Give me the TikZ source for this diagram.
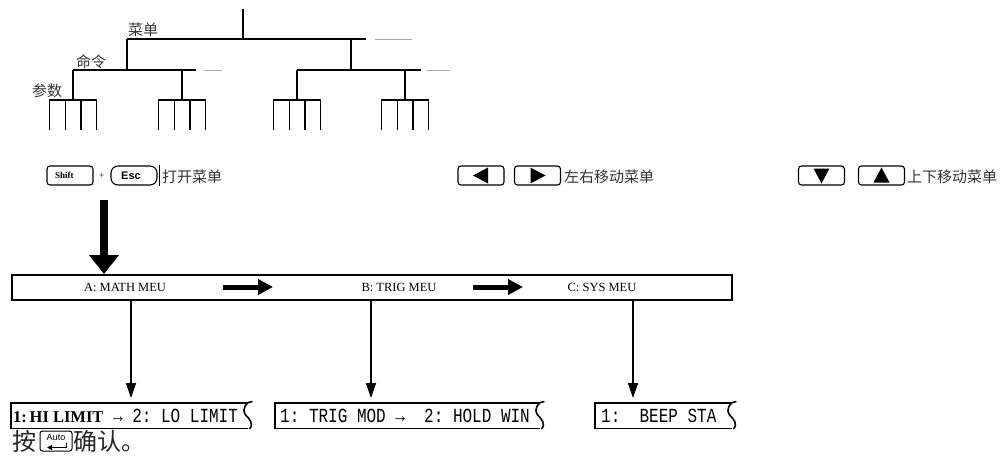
\documentclass[tikz,border=0pt]{standalone}
\usepackage{fontspec}
\setmainfont{Liberation Serif}
\newfontfamily\cjk{Noto Sans CJK SC}
\newfontfamily\narrowmono[FakeStretch=0.8]{Liberation Mono}
\newfontfamily\keysans{Liberation Sans}
\usetikzlibrary{arrows.meta,calc}
\tikzset{
  treeline/.style={line width=1.4pt},
  greydash/.style={line width=1pt,color=black!35},
  cjklabel/.style={font=\cjk\fontsize{15}{15}\selectfont,inner sep=0pt,text=black!80},
  keybox/.style={draw,rounded corners=3pt,line width=1.1pt,inner sep=0pt,minimum height=19pt,minimum width=46pt},
  bigarrow/.style={line width=8pt,-{Triangle[width=29pt,length=19pt]}},
  bararrow/.style={line width=5pt,-{Triangle[width=15pt,length=15pt]}},
  downconn/.style={line width=1.4pt,-{Triangle[width=10pt,length=15pt]},shorten >=5pt},
  bartext/.style={font=\fontsize{12.5}{12.5}\selectfont,inner sep=0pt},
  boxline/.style={line width=1.6pt},
  boxtext/.style={font=\narrowmono\fontsize{20}{20}\selectfont,inner sep=0pt,anchor=west},
  tornbox/.style={minimum height=25pt,inner sep=0pt,anchor=north west}
}
\begin{document}
\begin{tikzpicture}[x=1pt,y=-1pt]
\useasboundingbox (0,0) rectangle (1005,472);

% ---------- tree ----------
\coordinate (root) at (243,9);
\coordinate (rootj) at (243,39);
\coordinate (l1a) at (127,39);
\coordinate (l1b) at (366,39);
\coordinate (l1c) at (351,39);
\draw[treeline] (root) -- (rootj);
\draw[treeline] (l1a) -- (l1b);
\draw[greydash] (375,39) -- (412,39);
\draw[treeline] (l1a) -- (127,70);
\draw[treeline] (l1c) -- (351,70);
\draw[treeline] (73,70) -- (196,70);
\draw[treeline] (297,70) -- (421,70);
\draw[greydash] (204,70) -- (222,70);
\draw[greydash] (427,70) -- (450,70);
\foreach \s in {73,182,297,405} {
  \draw[treeline] (\s,70) -- (\s,100);
  \draw[treeline] (\s-24,100) -- (\s+24,100);
  \foreach \d in {-23.5,-7.8,7.8,23.5}
    \draw[treeline] (\s+\d,100) -- (\s+\d,130);
}
\node[cjklabel] (lmenu) at (143,30) {菜单};
\node[cjklabel] (lcmd) at (91,62) {命令};
\node[cjklabel] (lpar) at (47,91) {参数};

% ---------- keys row ----------
\node[keybox,text width=38pt,align=left,font=\bfseries\fontsize{9}{9}\selectfont] (shift) at (70,175.5) {\hspace*{4pt}Shift};
\node[inner sep=0pt,font=\fontsize{9}{9}\selectfont] (plus) at (102,176) {+};
\node[keybox,rounded corners=7pt,font=\keysans\bfseries\fontsize{11}{11}\selectfont] (esc) at (134,175.5) {\hspace*{-6pt}Esc};
\draw[line width=0.8pt] ($(esc.north east)+(2,0)$) -- ($(esc.south east)+(2,0)$);
\node[cjklabel,anchor=west] (open) at (162,176.5) {打开菜单};

\node[keybox] (kleft) at (481,175.5) {};
\node[keybox] (kright) at (537.5,175.5) {};
\fill ($(kleft.center)+(-8,0)$) -- ++(15,-8) -- ++(0,16) -- cycle;
\fill ($(kright.center)+(8,0)$) -- ++(-15,-8) -- ++(0,16) -- cycle;
\node[cjklabel,anchor=west] (lr) at (564,176.5) {左右移动菜单};

\node[keybox] (kdown) at (821.5,175.5) {};
\node[keybox] (kup) at (881.5,175.5) {};
\fill ($(kdown.center)+(0,8)$) -- ++(-8,-15) -- ++(16,0) -- cycle;
\fill ($(kup.center)+(0,-8)$) -- ++(-8,15) -- ++(16,0) -- cycle;
\node[cjklabel,anchor=west] (ud) at (907,176.5) {上下移动菜单};

% ---------- menu bar ----------
\node[draw,line width=1.5pt,minimum width=720pt,minimum height=25pt,inner sep=0pt,anchor=north west] (bar) at (11,274) {};
\node[bartext] (ma) at (125,287) {A: MATH MEU};
\node[bartext] (mb) at (399,287) {B: TRIG MEU};
\node[bartext] (mc) at (602,287) {C: SYS MEU};
\coordinate (bigstart) at (104,200);
\draw[bigarrow] (bigstart) -- (bigstart |- bar.north);
\coordinate (ab1) at (223,287);
\coordinate (ab2) at (273,287);
\coordinate (bc1) at (473,287);
\coordinate (bc2) at (523,287);
\draw[bararrow] (ab1) -- (ab2);
\draw[bararrow] (bc1) -- (bc2);

% ---------- bottom boxes ----------
\node[tornbox,minimum width=237pt] (b1) at (11,403) {};
\node[tornbox,minimum width=265pt] (b2) at (275,403) {};
\node[tornbox,minimum width=137pt] (b3) at (595,403) {};
\foreach \n in {b1,b2,b3} {
  \draw[boxline] (\n.north east) -- (\n.north west) -- (\n.south west) -- (\n.south east);
  \draw[boxline] ($(\n.north east)+(4,-1.5)$) .. controls ($(\n.north east)+(-2,-2)$) and ($(\n.north east)+(-7,6)$) .. ($(\n.east)+(-3,-1)$) .. controls ($(\n.east)+(1,3)$) and ($(\n.south east)+(6,-4)$) .. ($(\n.south east)+(1,0.5)$);
}
\node[boxtext] (t1) at ($(b1.west)+(2,0)$) {{\rmfamily\bfseries\fontsize{16.5}{16.5}\selectfont 1:\,HI LIMIT}\ →\ 2:\ LO LIMIT};
\node[boxtext] (t2) at ($(b2.west)+(5,0)$) {1:\ TRIG MOD →\ \ 2:\ HOLD WIN};
\node[boxtext] (t3) at ($(b3.west)+(6,0)$) {1:\ \ BEEP STA};

\coordinate (c1) at (131,0);
\coordinate (c2) at (371,0);
\coordinate (c3) at (633,0);
\draw[downconn] (bar.south -| c1) -- (b1.north -| c1);
\draw[downconn] (bar.south -| c2) -- (b2.north -| c2);
\draw[downconn] (bar.south -| c3) -- (b3.north -| c3);

% ---------- footer ----------
\node[inner sep=0pt,anchor=west,font=\cjk\fontsize{24}{24}\selectfont,text=black!85] (press) at (12,441) {按};
\node[draw,rounded corners=2.5pt,line width=1pt,minimum width=32pt,minimum height=20pt,inner sep=0pt] (auto) at (56,441) {};
\node[inner sep=0pt,font=\keysans\fontsize{9}{9}\selectfont] (autot) at ($(auto.center)+(0,-4)$) {Auto};
\draw[line width=1pt,-{Triangle[width=5pt,length=5pt]}] ($(auto.center)+(10,1.5)$) -- ++(0,5) -- ++(-19,0);
\node[inner sep=0pt,anchor=west,font=\cjk\fontsize{24}{24}\selectfont,text=black!85] (confirm) at (73,441) {确认。};
\end{tikzpicture}
\end{document}
